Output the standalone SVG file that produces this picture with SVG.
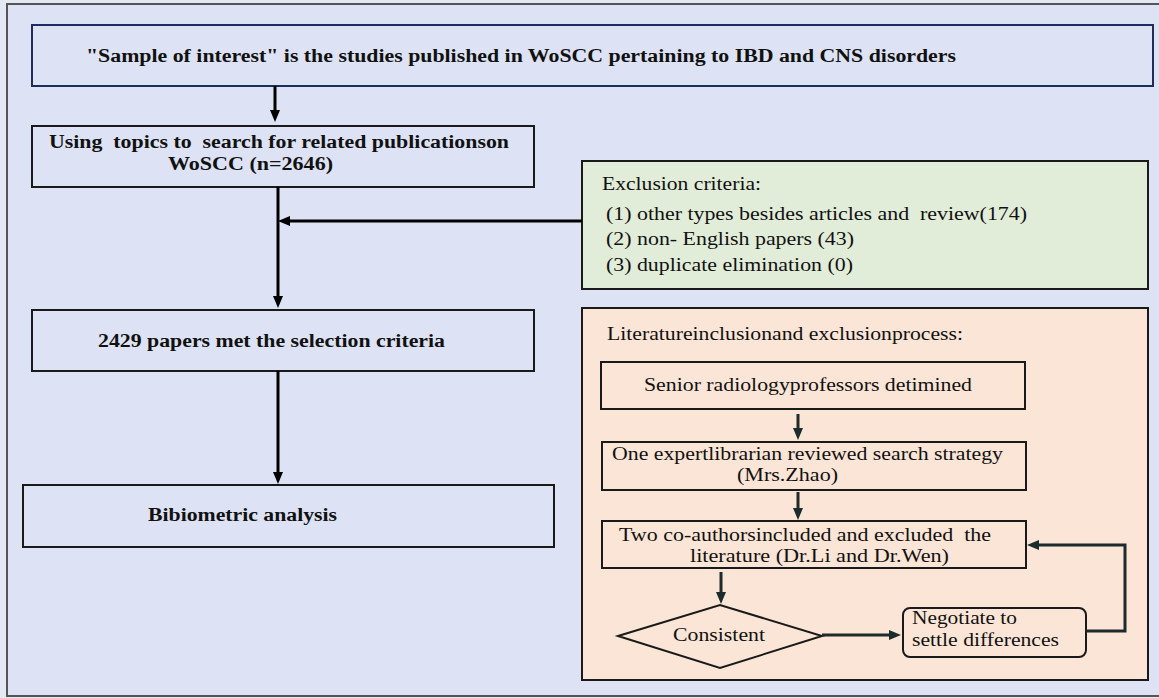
<svg xmlns="http://www.w3.org/2000/svg" width="1159" height="698" viewBox="0 0 1159 698" xml:space="preserve">
<defs>
<style>
.bg{fill:#dde3f4}
.box{fill:#dde3f4;stroke:#1a1a1a;stroke-width:2}
.top{fill:#dde3f4;stroke:#1f2d5c;stroke-width:2}
.green{fill:#e2edd9;stroke:#1a1a1a;stroke-width:2}
.orange{fill:#fbe5d6;stroke:#1a1a1a;stroke-width:2}
.ibox{fill:#fbe5d6;stroke:#1a1a1a;stroke-width:2}
.b{font-family:"Liberation Serif","Times New Roman",Times,serif;font-weight:bold;font-size:18px;fill:#111;white-space:pre}
.r{font-family:"Liberation Serif","Times New Roman",Times,serif;font-size:18px;fill:#111;white-space:pre}
.con{stroke:#000;stroke-width:3;fill:none}
.con2{stroke:#1c2b2b;stroke-width:3;fill:none}
</style>
<marker id="ah" viewBox="0 0 12 10" markerUnits="userSpaceOnUse" markerWidth="12" markerHeight="10" refX="7" refY="5" orient="auto">
<path d="M0,0 L12,5 L0,10 z" fill="#000"/>
</marker>
<marker id="ah2" viewBox="0 0 12 10" markerUnits="userSpaceOnUse" markerWidth="12" markerHeight="10" refX="7" refY="5" orient="auto">
<path d="M0,0 L12,5 L0,10 z" fill="#1c2b2b"/>
</marker>
</defs>
<rect x="0" y="0" width="1159" height="698" fill="#e4e8f2"/>
<rect x="7" y="4" width="1162" height="692" class="bg" stroke="#555" stroke-width="2"/>
<g id="n-sample">
<rect x="32" y="25" width="1121" height="61" class="top"/>
<text x="86" y="62" class="b" textLength="870" lengthAdjust="spacingAndGlyphs">"Sample of interest" is the studies published in WoSCC pertaining to IBD and CNS disorders</text>
</g>
<g id="n-search">
<rect x="32" y="126" width="502" height="61" class="box"/>
<text x="49" y="148" class="b" textLength="460" lengthAdjust="spacingAndGlyphs">Using  topics to  search for related publicationson</text>
<text x="168" y="170" class="b" textLength="165" lengthAdjust="spacingAndGlyphs">WoSCC (n=2646)</text>
</g>
<g id="n-met">
<rect x="32" y="310" width="502" height="61" class="box"/>
<text x="98" y="347" class="b" textLength="347" lengthAdjust="spacingAndGlyphs">2429 papers met the selection criteria</text>
</g>
<g id="n-biblio">
<rect x="23" y="485" width="531" height="62" class="box"/>
<text x="148" y="521" class="b" textLength="189" lengthAdjust="spacingAndGlyphs">Bibiometric analysis</text>
</g>
<g id="n-exclusion">
<rect x="582" y="161" width="566" height="128" class="green"/>
<text x="602" y="190" class="r" textLength="159" lengthAdjust="spacingAndGlyphs">Exclusion criteria:</text>
<text x="606" y="220" class="r" textLength="421" lengthAdjust="spacingAndGlyphs">(1) other types besides articles and  review(174)</text>
<text x="606" y="245" class="r" textLength="248" lengthAdjust="spacingAndGlyphs">(2) non- English papers (43)</text>
<text x="606" y="271" class="r" textLength="247" lengthAdjust="spacingAndGlyphs">(3) duplicate elimination (0)</text>
</g>
<g id="n-process">
<rect x="582" y="308" width="566" height="372" class="orange"/>
<text x="607" y="340" class="r" textLength="356" lengthAdjust="spacingAndGlyphs">Literatureinclusionand exclusionprocess:</text>
</g>
<g id="n-senior">
<rect x="601" y="362" width="424" height="47" class="ibox"/>
<text x="644" y="391" class="r" textLength="328" lengthAdjust="spacingAndGlyphs">Senior radiologyprofessors detimined</text>
</g>
<g id="n-librarian">
<rect x="602" y="442" width="424" height="48" class="ibox"/>
<text x="612" y="460" class="r" textLength="391" lengthAdjust="spacingAndGlyphs">One expertlibrarian reviewed search strategy</text>
<text x="737" y="481" class="r" textLength="101" lengthAdjust="spacingAndGlyphs">(Mrs.Zhao)</text>
</g>
<g id="n-coauthors">
<rect x="602" y="521" width="424" height="47" class="ibox"/>
<text x="619" y="541" class="r" textLength="372" lengthAdjust="spacingAndGlyphs">Two co-authorsincluded and excluded  the</text>
<text x="690" y="562" class="r" textLength="259" lengthAdjust="spacingAndGlyphs">literature (Dr.Li and Dr.Wen)</text>
</g>
<g id="n-consistent">
<polygon points="618,636 720,605 822,636 720,668" fill="#fbe5d6" stroke="#1a1a1a" stroke-width="2"/>
<text x="673" y="641" class="r" textLength="92" lengthAdjust="spacingAndGlyphs">Consistent</text>
</g>
<g id="n-negotiate">
<rect x="903" y="608" width="183" height="49" rx="7" ry="7" class="ibox"/>
<text x="912" y="624" class="r" textLength="105" lengthAdjust="spacingAndGlyphs">Negotiate to</text>
<text x="912" y="646" class="r" textLength="147" lengthAdjust="spacingAndGlyphs">settle differences</text>
</g>
<g id="connectors">
<line x1="275" y1="86" x2="275" y2="117" class="con" marker-end="url(#ah)"/>
<line x1="278" y1="187" x2="278" y2="303" class="con" marker-end="url(#ah)"/>
<line x1="582" y1="221" x2="283" y2="221" class="con" marker-end="url(#ah)"/>
<line x1="278" y1="371" x2="278" y2="479" class="con" marker-end="url(#ah)"/>
<line x1="798" y1="414" x2="798" y2="435" class="con2" marker-end="url(#ah2)"/>
<line x1="798" y1="492" x2="798" y2="515" class="con2" marker-end="url(#ah2)"/>
<line x1="721" y1="572" x2="721" y2="599" class="con2" marker-end="url(#ah2)"/>
<line x1="822" y1="635" x2="896" y2="635" class="con2" marker-end="url(#ah2)"/>
<polyline points="1086,631 1125,631 1125,545 1032,545" class="con2" marker-end="url(#ah2)"/>
</g>
</svg>
